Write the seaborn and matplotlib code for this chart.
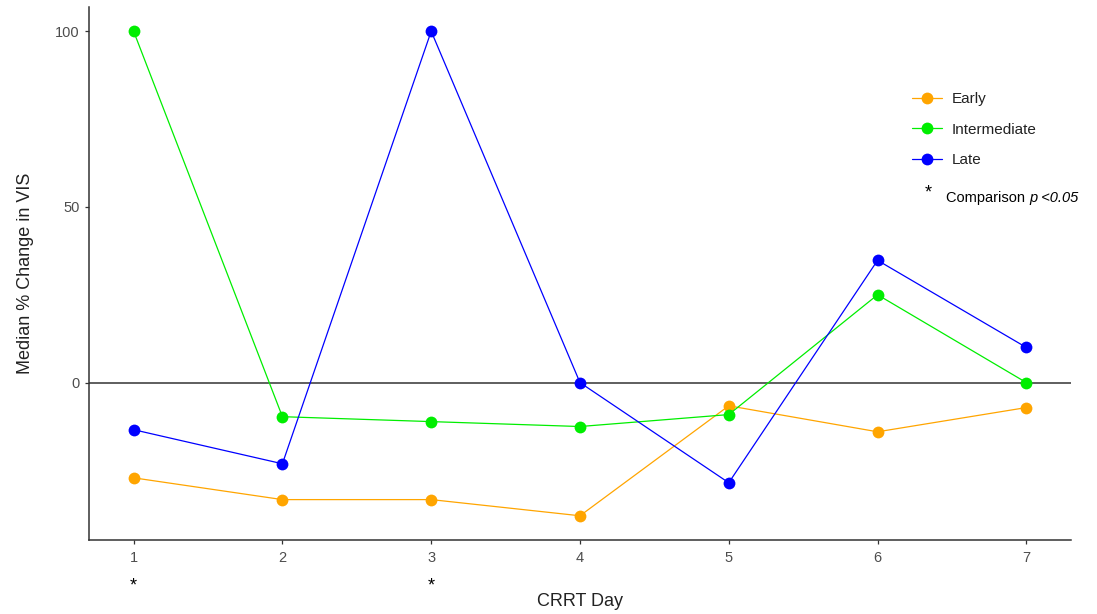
import matplotlib
matplotlib.use("Agg")
import matplotlib.pyplot as plt
import seaborn as sns
import pandas as pd
import numpy as np
from matplotlib.lines import Line2D

days = [1, 2, 3, 4, 5, 6, 7]
early = [-27.1, -33.3, -33.3, -37.9, -6.6, -14.0, -7.1]
intermediate = [100.0, -9.7, -11.1, -12.5, -9.1, 25.0, 0.0]
late = [-13.4, -23.1, 100.0, 0.0, -28.5, 34.8, 10.0]
groups = ["Early", "Intermediate", "Late"]
colors = ["#FFA500", "#00EE00", "#0000FF"]
sig_days = [1, 3]
y_ticks = [0, 50, 100]

sns.set_theme(style="white")
plt.rcParams["font.family"] = ["Liberation Sans", "DejaVu Sans"]

df = pd.DataFrame({
    "day": days * 3,
    "value": early + intermediate + late,
    "group": [g for g in groups for _ in days],
})

fig = plt.figure(figsize=(10.97, 6.14), dpi=100)
ax = fig.add_axes([0.0811, 0.1205, 0.8952, 0.8681])

ax.axhline(0, color="#333333", lw=1.1, zorder=1)
sns.lineplot(data=df, x="day", y="value", hue="group", hue_order=groups,
             palette=colors, marker="o", markersize=8.5, markeredgewidth=0,
             linewidth=0.9, ax=ax, legend=False, zorder=3)

ax.set_xlim(0.7, 7.3)
ax.set_ylim(-44.8, 106.9)
ax.set_xticks(days)
ax.set_yticks(y_ticks)
ax.tick_params(axis="both", labelsize=10.5, labelcolor="#4D4D4D", length=3,
               width=0.9, color="#333333", direction="out", left=True, bottom=True)
ax.tick_params(axis="x", pad=5)
for s in ["top", "right"]:
    ax.spines[s].set_visible(False)
for s in ["left", "bottom"]:
    ax.spines[s].set_color("#333333")
    ax.spines[s].set_linewidth(1.1)

ax.set_xlabel("CRRT Day", fontsize=13, color="#222222", labelpad=20)
ax.set_ylabel("Median % Change in VIS", fontsize=13, color="#222222", labelpad=15)

trans = ax.get_xaxis_transform()
for d in sig_days:
    ax.text(d, -0.087, "*", transform=trans, ha="center", va="center",
            fontsize=13, color="black")

handles = [Line2D([0], [0], color=c, marker="o", markersize=8.5, markeredgewidth=0,
                  lw=0.9) for c in colors]
leg = ax.legend(handles, groups, loc="upper left", bbox_to_anchor=(0.824, 0.866),
                frameon=False, fontsize=11, handlelength=2.0, labelspacing=1.08,
                handletextpad=0.6)
for t in leg.get_texts():
    t.set_color("#222222")

fig.text(928 / 1097, 1 - 193 / 614, "*", ha="center", va="center", fontsize=13,
         color="black")
t1 = fig.text(946 / 1097, 1 - 198 / 614, "Comparison ", ha="left",
              va="center", fontsize=10.5, color="black")
ax.annotate("p <0.05", xy=(1, 0.5), xycoords=t1, ha="left", va="center",
            fontsize=10.5, color="black", style="italic", annotation_clip=False)

fig.savefig("out.png", dpi=100)
